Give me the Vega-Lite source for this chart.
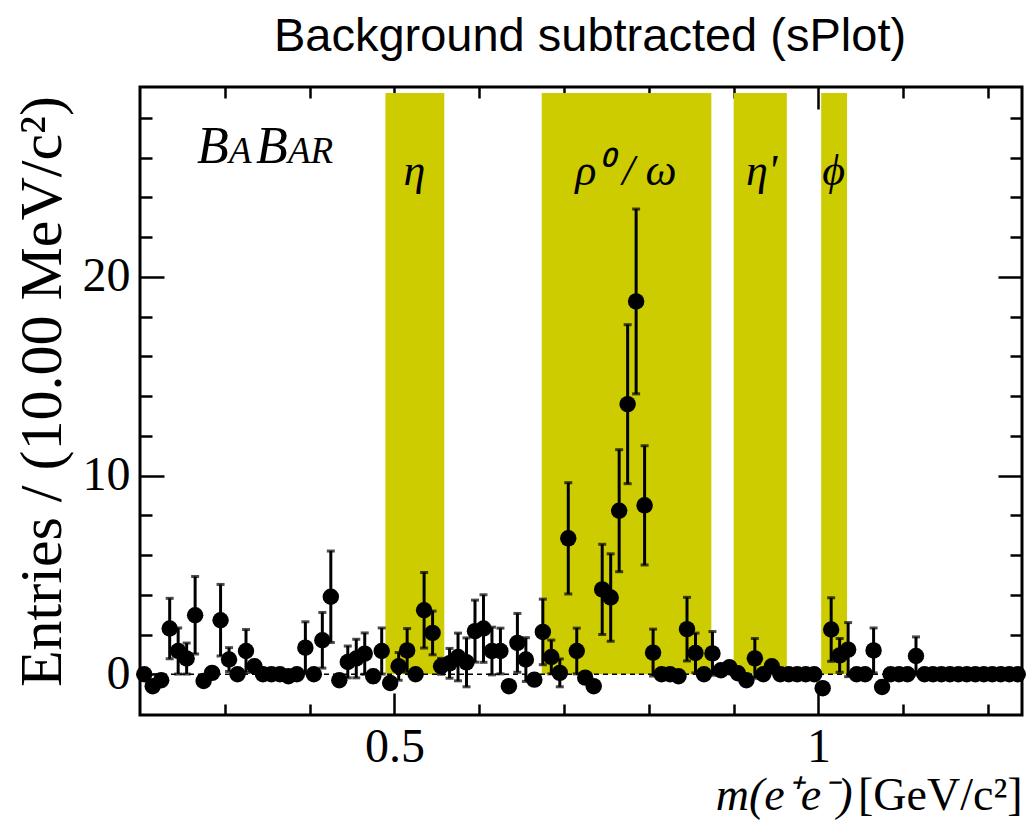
{
  "$schema": "https://vega.github.io/schema/vega-lite/v6.json",
  "width": 882,
  "height": 628,
  "autosize": "none",
  "padding": {"left": 140, "top": 87, "right": 4, "bottom": 106},
  "background": "white",
  "view": {"stroke": "black", "strokeWidth": 3},
  "title": {"text": "Background subtracted (sPlot)", "font": "Liberation Sans", "fontSize": 47, "fontWeight": "normal", "color": "black", "anchor": "middle", "frame": "group", "baseline": "alphabetic", "offset": -12, "dx": 9},
  "datasets": {
    "bands": [
      {"x1": 0.4894, "x2": 0.5588, "mid": 0.5235, "label": "η"},
      {"x1": 0.6737, "x2": 0.8737, "mid": 0.773, "label": "ρ⁰ / ω"},
      {"x1": 0.9, "x2": 0.9627, "mid": 0.933, "label": "η'"},
      {"x1": 1.0032, "x2": 1.0337, "mid": 1.0178, "label": "ϕ"}
    ],
    "pts": [
      {"m": 0.205, "v": 0, "e": 0},
      {"m": 0.215, "v": -0.6, "e": 0},
      {"m": 0.225, "v": -0.3, "e": 0},
      {"m": 0.235, "v": 2.3, "e": 1.52},
      {"m": 0.245, "v": 1.17, "e": 1.16},
      {"m": 0.255, "v": 0.79, "e": 0.78},
      {"m": 0.265, "v": 2.97, "e": 1.95},
      {"m": 0.275, "v": -0.34, "e": 0},
      {"m": 0.285, "v": 0.07, "e": 0},
      {"m": 0.295, "v": 2.72, "e": 1.8},
      {"m": 0.305, "v": 0.74, "e": 0.6},
      {"m": 0.315, "v": 0, "e": 0},
      {"m": 0.325, "v": 1.17, "e": 1.08},
      {"m": 0.335, "v": 0.4, "e": 0.3},
      {"m": 0.345, "v": 0, "e": 0},
      {"m": 0.355, "v": 0, "e": 0},
      {"m": 0.365, "v": 0, "e": 0},
      {"m": 0.375, "v": -0.1, "e": 0},
      {"m": 0.385, "v": 0, "e": 0},
      {"m": 0.395, "v": 1.34, "e": 1.3},
      {"m": 0.405, "v": 0, "e": 0},
      {"m": 0.415, "v": 1.71, "e": 1.4},
      {"m": 0.425, "v": 3.9, "e": 2.3},
      {"m": 0.435, "v": -0.3, "e": 0},
      {"m": 0.445, "v": 0.62, "e": 0.8},
      {"m": 0.455, "v": 0.79, "e": 0.97},
      {"m": 0.465, "v": 1.04, "e": 1.04},
      {"m": 0.475, "v": -0.1, "e": 0.3},
      {"m": 0.485, "v": 1.17, "e": 1.16},
      {"m": 0.495, "v": -0.44, "e": 0},
      {"m": 0.505, "v": 0.4, "e": 0.7},
      {"m": 0.515, "v": 1.2, "e": 1.1},
      {"m": 0.525, "v": 0, "e": 0},
      {"m": 0.535, "v": 3.22, "e": 1.9},
      {"m": 0.545, "v": 2.08, "e": 1.1},
      {"m": 0.555, "v": 0.4, "e": 0.4},
      {"m": 0.565, "v": 0.55, "e": 0.75},
      {"m": 0.575, "v": 0.87, "e": 1.2},
      {"m": 0.585, "v": 0.6, "e": 1.23},
      {"m": 0.595, "v": 2.17, "e": 1.56},
      {"m": 0.605, "v": 2.3, "e": 1.7},
      {"m": 0.615, "v": 1.17, "e": 1.2},
      {"m": 0.625, "v": 1.17, "e": 1.15},
      {"m": 0.635, "v": -0.6, "e": 0},
      {"m": 0.645, "v": 1.58, "e": 1.48},
      {"m": 0.655, "v": 0.74, "e": 1.1},
      {"m": 0.665, "v": -0.27, "e": 0},
      {"m": 0.675, "v": 2.13, "e": 1.65},
      {"m": 0.685, "v": 0.87, "e": 0.85},
      {"m": 0.695, "v": 0.07, "e": 0.7},
      {"m": 0.705, "v": 6.84, "e": 2.8},
      {"m": 0.715, "v": 1.17, "e": 1.15},
      {"m": 0.725, "v": -0.17, "e": 0},
      {"m": 0.735, "v": -0.6, "e": 0},
      {"m": 0.745, "v": 4.27, "e": 2.27},
      {"m": 0.755, "v": 3.86, "e": 2.2},
      {"m": 0.765, "v": 8.23, "e": 3.07},
      {"m": 0.775, "v": 13.59, "e": 4.0},
      {"m": 0.785, "v": 18.76, "e": 4.65},
      {"m": 0.795, "v": 8.5, "e": 3.0},
      {"m": 0.805, "v": 1.09, "e": 1.18},
      {"m": 0.815, "v": 0, "e": 0},
      {"m": 0.825, "v": 0, "e": 0},
      {"m": 0.835, "v": -0.1, "e": 0},
      {"m": 0.845, "v": 2.27, "e": 1.6},
      {"m": 0.855, "v": 1.07, "e": 1.0},
      {"m": 0.865, "v": 0, "e": 0},
      {"m": 0.875, "v": 1.05, "e": 1.1},
      {"m": 0.885, "v": 0.2, "e": 0},
      {"m": 0.895, "v": 0.35, "e": 0},
      {"m": 0.905, "v": 0.05, "e": 0},
      {"m": 0.915, "v": -0.3, "e": 0},
      {"m": 0.925, "v": 0.8, "e": 1.0},
      {"m": 0.935, "v": 0, "e": 0},
      {"m": 0.945, "v": 0.4, "e": 0},
      {"m": 0.955, "v": 0, "e": 0},
      {"m": 0.965, "v": 0, "e": 0},
      {"m": 0.975, "v": 0, "e": 0},
      {"m": 0.985, "v": 0, "e": 0},
      {"m": 0.995, "v": 0, "e": 0},
      {"m": 1.005, "v": -0.7, "e": 0},
      {"m": 1.015, "v": 2.25, "e": 1.6},
      {"m": 1.025, "v": 0.95, "e": 0.85},
      {"m": 1.035, "v": 1.24, "e": 1.36},
      {"m": 1.045, "v": 0, "e": 0},
      {"m": 1.055, "v": 0, "e": 0},
      {"m": 1.065, "v": 1.2, "e": 1.13},
      {"m": 1.075, "v": -0.64, "e": 0},
      {"m": 1.085, "v": 0, "e": 0},
      {"m": 1.095, "v": 0, "e": 0},
      {"m": 1.105, "v": 0, "e": 0},
      {"m": 1.115, "v": 0.92, "e": 0.96},
      {"m": 1.125, "v": 0, "e": 0},
      {"m": 1.135, "v": 0, "e": 0},
      {"m": 1.145, "v": 0, "e": 0},
      {"m": 1.155, "v": 0, "e": 0},
      {"m": 1.165, "v": 0, "e": 0},
      {"m": 1.175, "v": 0, "e": 0},
      {"m": 1.185, "v": 0, "e": 0},
      {"m": 1.195, "v": 0, "e": 0},
      {"m": 1.205, "v": 0, "e": 0},
      {"m": 1.215, "v": 0, "e": 0},
      {"m": 1.225, "v": 0, "e": 0},
      {"m": 1.235, "v": 0, "e": 0}
    ]
  },
  "layer": [
    {
      "data": {"name": "bands"},
      "mark": {"type": "rect", "color": "#cccc00"},
      "encoding": {
        "x": {"field": "x1", "type": "quantitative", "scale": {"domain": [0.2, 1.24], "nice": false, "zero": false},
          "axis": {"orient": "bottom", "values": [0.3, 0.4, 0.5, 0.6, 0.7, 0.8, 0.9, 1, 1.1, 1.2], "labels": false, "domain": false, "grid": false, "tickColor": "black", "tickWidth": 2.5,
            "tickSize": {"condition": {"test": "datum.value == 0.5 || datum.value == 1", "value": -22}, "value": -11},
            "title": "[GeV/c²]", "titleFont": "Liberation Serif", "titleFontSize": 46, "titleFontWeight": "normal", "titleColor": "black", "titleAlign": "right", "titleBaseline": "alphabetic", "titleX": 882, "titleY": 94}},
        "x2": {"field": "x2"},
        "y": {"datum": 0, "type": "quantitative", "scale": {"domain": [-2.05, 29.55], "nice": false, "zero": false},
          "axis": {"orient": "right", "values": [0, 2, 4, 6, 8, 10, 12, 14, 16, 18, 20, 22, 24, 26, 28], "labels": false, "domain": false, "grid": false, "title": null, "tickColor": "black", "tickWidth": 2.5,
            "tickSize": {"condition": {"test": "datum.value % 10 == 0", "value": -24}, "value": -12}}},
        "y2": {"datum": 29.25}
      }
    },
    {
      "data": {"values": [{}]},
      "mark": {"type": "rule", "strokeDash": [5, 4], "strokeWidth": 1.5, "color": "black"},
      "encoding": {"y": {"datum": 0, "type": "quantitative", "axis": null}}
    },
    {
      "data": {"name": "pts"},
      "mark": {"type": "errorbar", "ticks": {"size": 8}, "thickness": 3, "color": "black"},
      "encoding": {
        "x": {"field": "m", "type": "quantitative",
          "axis": {"orient": "top", "values": [0.3, 0.4, 0.5, 0.6, 0.7, 0.8, 0.9, 1, 1.1, 1.2], "labels": false, "domain": false, "grid": false, "title": null, "tickColor": "black", "tickWidth": 2.5,
            "tickSize": {"condition": {"test": "datum.value == 0.5 || datum.value == 1", "value": -22}, "value": -11}}},
        "y": {"field": "v", "type": "quantitative",
          "axis": {"orient": "left", "values": [0, 2, 4, 6, 8, 10, 12, 14, 16, 18, 20, 22, 24, 26, 28], "labels": false, "domain": false, "grid": false, "title": null, "tickColor": "black", "tickWidth": 2.5,
            "tickSize": {"condition": {"test": "datum.value % 10 == 0", "value": -24}, "value": -12}}},
        "yError": {"field": "e"}
      }
    },
    {
      "data": {"name": "pts"},
      "mark": {"type": "circle", "size": 270, "color": "black", "opacity": 1},
      "encoding": {
        "x": {"field": "m", "type": "quantitative",
          "axis": {"orient": "bottom", "values": [0.5, 1], "format": "~g", "ticks": false, "domain": false, "grid": false, "labelFlush": false, "labelFont": "Liberation Serif", "labelFontSize": 48, "labelColor": "black", "labelPadding": 8,
            "title": "m(e⁺e⁻)", "titleFont": "Liberation Serif", "titleFontStyle": "italic", "titleFontSize": 46, "titleFontWeight": "normal", "titleColor": "black", "titleAlign": "right", "titleBaseline": "alphabetic", "titleX": 712, "titleY": 94}},
        "y": {"field": "v", "type": "quantitative",
          "axis": {"orient": "left", "values": [0, 10, 20], "format": "d", "ticks": false, "domain": false, "grid": false, "labelFlush": false, "labelFont": "Liberation Serif", "labelFontSize": 48, "labelColor": "black", "labelPadding": 10,
            "title": "Entries / (10.00 MeV/c²)", "titleFont": "Liberation Serif", "titleFontSize": 60, "titleFontWeight": "normal", "titleColor": "black", "titleAlign": "center", "titleBaseline": "alphabetic", "titleAngle": -90, "titleX": -80, "titleY": 304}}
      }
    },
    {
      "data": {"name": "bands"},
      "mark": {"type": "text", "font": "Liberation Serif", "fontStyle": "italic", "fontSize": 44, "align": "center", "baseline": "alphabetic", "color": "black"},
      "encoding": {
        "x": {"field": "mid", "type": "quantitative", "axis": null},
        "y": {"datum": 24.6, "type": "quantitative", "axis": null},
        "text": {"field": "label"}
      }
    },
    {
      "data": {"values": [{}]},
      "mark": {"type": "text", "text": "B", "font": "Liberation Serif", "fontStyle": "italic", "fontSize": 52, "align": "left", "baseline": "alphabetic", "color": "black"},
      "encoding": {"x": {"datum": 0.2672, "type": "quantitative", "axis": null}, "y": {"datum": 25.73, "type": "quantitative", "axis": null}}
    },
    {
      "data": {"values": [{}]},
      "mark": {"type": "text", "text": "A", "font": "Liberation Serif", "fontStyle": "italic", "fontSize": 37, "align": "left", "baseline": "alphabetic", "color": "black"},
      "encoding": {"x": {"datum": 0.3049, "type": "quantitative", "axis": null}, "y": {"datum": 25.73, "type": "quantitative", "axis": null}}
    },
    {
      "data": {"values": [{}]},
      "mark": {"type": "text", "text": "B", "font": "Liberation Serif", "fontStyle": "italic", "fontSize": 52, "align": "left", "baseline": "alphabetic", "color": "black"},
      "encoding": {"x": {"datum": 0.3368, "type": "quantitative", "axis": null}, "y": {"datum": 25.73, "type": "quantitative", "axis": null}}
    },
    {
      "data": {"values": [{}]},
      "mark": {"type": "text", "text": "AR", "font": "Liberation Serif", "fontStyle": "italic", "fontSize": 37, "align": "left", "baseline": "alphabetic", "color": "black"},
      "encoding": {"x": {"datum": 0.3745, "type": "quantitative", "axis": null}, "y": {"datum": 25.73, "type": "quantitative", "axis": null}}
    }
  ],
  "resolve": {"axis": {"x": "independent", "y": "independent"}}
}
